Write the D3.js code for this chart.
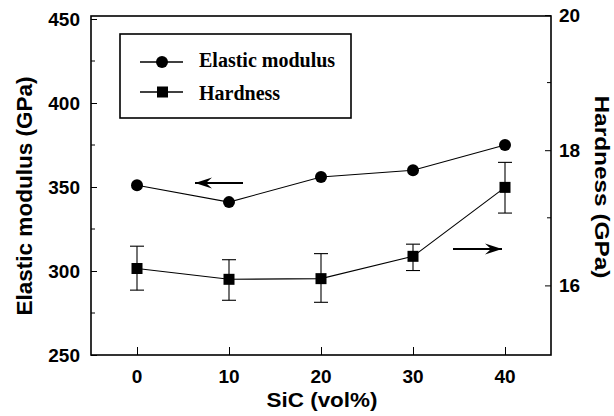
<!DOCTYPE html>
<html><head><meta charset="utf-8">
<script src="https://cdn.jsdelivr.net/npm/d3@7"></script>
<style>body{margin:0;background:#fff}svg{display:block}</style>
</head><body>
<script>
const sic = [0, 10, 20, 30, 40];
const modulus = [351, 341, 356, 360, 375];
const hardness = [16.25, 16.09, 16.10, 16.43, 17.45];
const hardnessHi = [16.58, 16.38, 16.47, 16.61, 17.82];
const hardnessLo = [15.93, 15.78, 15.75, 16.22, 17.07];
const xTicks = [0, 10, 20, 30, 40];
const leftTicks = [250, 300, 350, 400, 450];
const leftMinor = [275, 325, 375, 425];
const rightTicks = [16, 18, 20];
const rightMinor = [17, 19];

const W = 614, H = 416;
const L = 91, R = 551, T = 16, B = 355;
const svg = d3.select("body").append("svg").attr("width", W).attr("height", H);
const x = d3.scaleLinear().domain([-5, 45]).range([L, R]);
const yL = d3.scaleLinear().domain([250, 450]).range([355, 19]);
const yR = d3.scaleLinear().domain([15, 20]).range([353, 15]);
const sans = "Liberation Sans, Arial, sans-serif";
const serif = "Liberation Serif, Times New Roman, serif";

// frame
svg.append("rect").attr("x", L).attr("y", T).attr("width", R - L).attr("height", B - T)
  .attr("fill", "none").attr("stroke", "#000").attr("stroke-width", 1.6);

// left axis
const gL = svg.append("g").attr("transform", `translate(${L},0)`);
gL.call(d3.axisRight(yL).tickValues(leftTicks).tickSize(6).tickFormat(""));
gL.call(g => g.selectAll(".domain").remove());
leftMinor.forEach(v => gL.append("line").attr("x1", 0).attr("x2", 4).attr("y1", yL(v)).attr("y2", yL(v)).attr("stroke", "#000"));
leftTicks.forEach(v => svg.append("text").attr("x", 80).attr("y", yL(v)).attr("dy", "0.36em")
  .attr("text-anchor", "end").attr("font-family", sans).attr("font-weight", "bold").attr("font-size", 19).text(v));

// right axis
const gR = svg.append("g").attr("transform", `translate(${R},0)`);
gR.call(d3.axisLeft(yR).tickValues(rightTicks).tickSize(6).tickFormat(""));
gR.call(g => g.selectAll(".domain").remove());
rightMinor.forEach(v => gR.append("line").attr("x1", 0).attr("x2", -4).attr("y1", yR(v)).attr("y2", yR(v)).attr("stroke", "#000"));
rightTicks.forEach(v => svg.append("text").attr("x", 559).attr("y", yR(v)).attr("dy", "0.36em")
  .attr("text-anchor", "start").attr("font-family", sans).attr("font-weight", "bold").attr("font-size", 19).text(v));

// bottom axis
const gB = svg.append("g").attr("transform", `translate(0,${B})`);
gB.call(d3.axisTop(x).tickValues(xTicks).tickSize(8).tickFormat(""));
gB.call(g => g.selectAll(".domain").remove());
xTicks.forEach(v => svg.append("text").attr("x", x(v)).attr("y", 376).attr("dy", "0.36em")
  .attr("text-anchor", "middle").attr("font-family", sans).attr("font-weight", "bold").attr("font-size", 19).text(v));

// axis titles
svg.append("text").attr("transform", `translate(32,196) rotate(-90)`).attr("text-anchor", "middle")
  .attr("font-family", sans).attr("font-weight", "bold").attr("font-size", 22)
  .attr("textLength", 239).attr("lengthAdjust", "spacingAndGlyphs").text("Elastic modulus (GPa)");
svg.append("text").attr("transform", `translate(595,187) rotate(90)`).attr("text-anchor", "middle")
  .attr("font-family", sans).attr("font-weight", "bold").attr("font-size", 20)
  .attr("textLength", 183).attr("lengthAdjust", "spacingAndGlyphs").text("Hardness (GPa)");
svg.append("text").attr("x", 322).attr("y", 407).attr("text-anchor", "middle")
  .attr("font-family", sans).attr("font-weight", "bold").attr("font-size", 21)
  .attr("textLength", 111).attr("lengthAdjust", "spacingAndGlyphs").text("SiC (vol%)");

// modulus line
const lineM = d3.line().x((d, i) => x(sic[i])).y(d => yL(d));
svg.append("path").attr("d", lineM(modulus)).attr("fill", "none").attr("stroke", "#000").attr("stroke-width", 1.1);
svg.selectAll(".cm").data(modulus).enter().append("circle")
  .attr("cx", (d, i) => x(sic[i])).attr("cy", d => yL(d)).attr("r", 6).attr("fill", "#000");

// hardness
const lineH = d3.line().x((d, i) => x(sic[i])).y(d => yR(d));
svg.append("path").attr("d", lineH(hardness)).attr("fill", "none").attr("stroke", "#000").attr("stroke-width", 1.1);
sic.forEach((s, i) => {
  const cx = x(s);
  svg.append("line").attr("x1", cx).attr("x2", cx).attr("y1", yR(hardnessHi[i])).attr("y2", yR(hardnessLo[i])).attr("stroke", "#000").attr("stroke-width", 1.1);
  [hardnessHi[i], hardnessLo[i]].forEach(v => svg.append("line").attr("x1", cx - 7).attr("x2", cx + 7)
    .attr("y1", yR(v)).attr("y2", yR(v)).attr("stroke", "#000").attr("stroke-width", 1.1));
});
svg.selectAll(".sq").data(hardness).enter().append("rect")
  .attr("x", (d, i) => x(sic[i]) - 5.5).attr("y", d => yR(d) - 5.5).attr("width", 11).attr("height", 11).attr("fill", "#000");

// arrows
function arrow(x1, x2, y) {
  svg.append("line").attr("x1", x1).attr("x2", x2).attr("y1", y).attr("y2", y).attr("stroke", "#000").attr("stroke-width", 2);
  const d = x2 > x1 ? 1 : -1;
  svg.append("path").attr("d", `M${x2},${y} L${x2 - d * 17},${y - 5.5} L${x2 - d * 11},${y} L${x2 - d * 17},${y + 5.5} Z`).attr("fill", "#000");
}
arrow(243, 195, 183);
arrow(453, 502, 249);

// legend
svg.append("rect").attr("x", 120).attr("y", 34).attr("width", 231).attr("height", 84)
  .attr("fill", "#fff").attr("stroke", "#000").attr("stroke-width", 1.6);
svg.append("line").attr("x1", 140).attr("x2", 183).attr("y1", 62).attr("y2", 62).attr("stroke", "#000").attr("stroke-width", 1.3);
svg.append("circle").attr("cx", 162).attr("cy", 62).attr("r", 6).attr("fill", "#000");
svg.append("line").attr("x1", 140).attr("x2", 183).attr("y1", 92).attr("y2", 92).attr("stroke", "#000").attr("stroke-width", 1.3);
svg.append("rect").attr("x", 157).attr("y", 86.5).attr("width", 11).attr("height", 11).attr("fill", "#000");
svg.append("text").attr("x", 199).attr("y", 67).attr("font-family", serif).attr("font-weight", "bold").attr("font-size", 20).text("Elastic modulus");
svg.append("text").attr("x", 199).attr("y", 100).attr("font-family", serif).attr("font-weight", "bold").attr("font-size", 20).text("Hardness");
</script>
</body></html>
